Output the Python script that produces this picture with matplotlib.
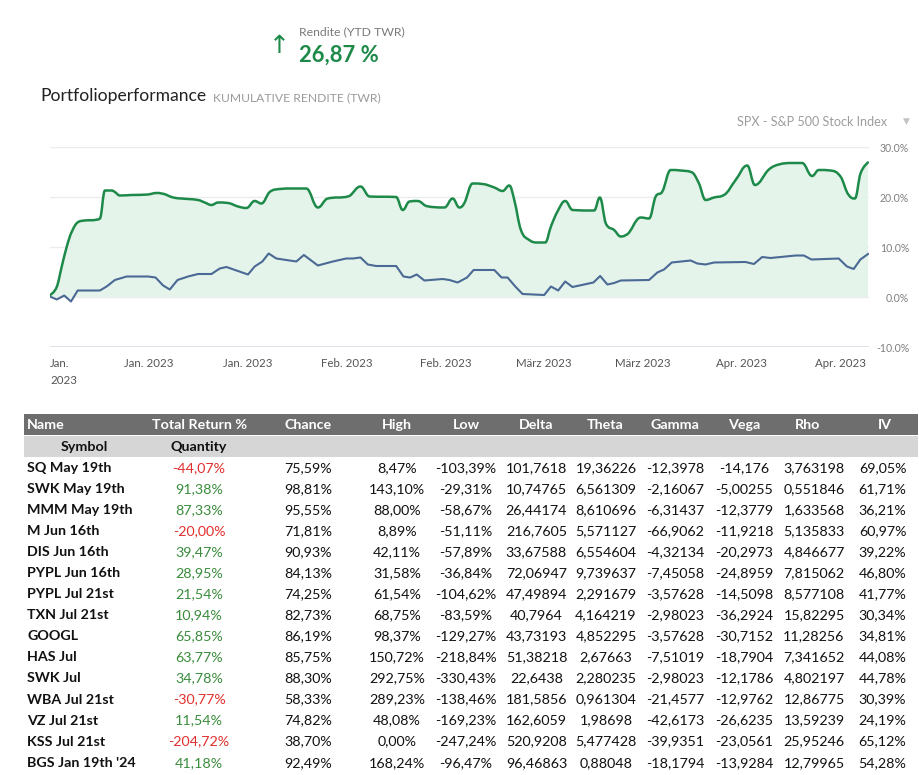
import matplotlib
matplotlib.use("Agg")
import matplotlib.pyplot as plt
from matplotlib.patches import Rectangle, PathPatch
from matplotlib.path import Path

plt.rcParams['font.family'] = ['Lato', 'DejaVu Sans']

W, H = 919, 775

# ---------------- chart data (day offset from 1 Jan 2023, cumulative return %) ----------------
port_days = [0, 0.95, 1.65, 2.36, 3.07, 4.0, 4.95, 6.36, 7.07, 7.78, 8.73, 9.19, 9.9, 11.55, 13.9,
             15.09, 15.8, 17.44, 18.62, 20.97, 21.92, 22.87, 23.8, 25.21, 26.63, 27.82, 28.99, 29.94,
             31.11, 32.53, 34.4, 36.3, 37.94, 39.13, 42.42, 43.98, 45.25, 49.03, 49.96, 50.91, 52.08,
             53.27, 55.86, 57.03, 57.98, 58.69, 59.86, 61.27, 62.93, 64.1, 65.05, 65.76, 66.7, 67.88,
             69.05, 70.14, 70.95, 71.88, 72.97, 74.0, 77.07, 77.87, 78.72, 79.9, 80.84, 81.55, 83.67,
             84.85, 85.79, 86.73, 87.92, 89.33, 90.97, 91.92, 92.86, 94.04, 95.45, 97.11, 98.75, 99.84,
             101.82, 103.23, 105.11, 106.53, 107.94, 108.89, 110.54, 111.96, 113.13, 114.0, 114.8, 115.86]
port_vals = [0.4, 2.0, 6.0, 10.0, 13.0, 15.0, 15.3, 15.4, 15.7, 21.3, 21.3, 21.0, 20.3, 20.4, 20.5,
             20.8, 20.7, 19.9, 19.7, 19.4, 18.9, 18.4, 18.9, 18.8, 18.1, 17.8, 19.2, 18.7,
             21.0, 21.6, 21.7, 21.7, 17.9, 19.6, 20.2, 22.1, 20.1, 20.0, 17.4, 19.1, 19.2,
             18.2, 17.9, 19.7, 17.9, 18.8, 22.7, 22.6, 21.9, 21.2, 22.3, 19.4, 13.4, 11.4,
             10.9, 10.9, 14.1, 17.1, 19.2, 17.4, 17.3, 19.9, 14.7, 13.4, 12.1, 12.4, 15.9,
             15.7, 20.1, 21.1, 25.4, 25.3, 24.9, 22.7, 19.4, 19.9, 20.4, 23.4, 26.3, 22.4,
             25.5, 26.5, 26.8, 26.8, 24.2, 25.4, 25.3, 24.1, 20.4, 19.7, 24.7, 26.9]

spx_days = [0, 0.95, 2.02, 2.97, 3.92, 7.07, 8.02, 9.19, 10.85, 13.9, 14.95, 16.02, 16.97, 18.06,
            19.56, 20.97, 22.87, 24.04, 24.99, 28.04, 28.99, 30.08, 30.97, 32.06, 34.89, 35.96, 37.94,
            40.06, 41.96, 42.89, 43.98, 45.01, 46.2, 49.03, 50.06, 51.01, 51.94, 53.03, 55.62, 56.57,
            57.74, 59.07, 60.0, 62.93, 63.96, 64.81, 65.9, 66.93, 70.0, 70.95, 71.98, 72.97, 74.0,
            76.97, 77.92, 78.95, 79.9, 80.84, 84.85, 86.02, 86.97, 88.06, 90.74, 91.68, 92.86, 94.04,
            98.52, 99.7, 100.87, 102.06, 105.6, 106.77, 107.85, 111.71, 112.88, 113.83, 114.78, 115.86]
spx_vals = [0.1, -0.5, 0.3, -0.9, 1.3, 1.3, 2.1, 3.4, 4.1, 4.1, 3.9, 2.3, 1.5, 3.4,
            4.1, 4.6, 4.6, 5.7, 6.0, 4.5, 6.1, 7.1, 8.7, 7.7, 7.1, 8.4, 6.3,
            7.1, 7.7, 7.7, 7.9, 6.5, 6.2, 6.2, 4.1, 3.9, 4.5, 3.3, 3.6, 3.4,
            2.9, 3.9, 5.4, 5.4, 3.9, 3.9, 2.1, 0.6, 0.4, 2.1, 1.3, 3.1, 2.0,
            2.9, 4.2, 2.5, 2.8, 3.3, 3.4, 4.9, 5.5, 6.9, 7.3, 6.7, 6.5, 6.9,
            7.0, 6.6, 8.0, 7.8, 8.3, 8.3, 7.5, 7.7, 6.1, 5.6, 7.5, 8.6]

x_tick_days = [0, 14, 28, 42, 56, 70, 84, 98, 112]
x_tick_labels = ["Jan.\n2023", "Jan. 2023", "Jan. 2023", "Feb. 2023", "Feb. 2023",
                 "März 2023", "März 2023", "Apr. 2023", "Apr. 2023"]
y_ticks = [-10, 0, 10, 20, 30]
y_tick_labels = ["-10.0%", "0.0%", "10.0%", "20.0%", "30.0%"]

ytd_return = "26,87 %"
benchmark = "SPX - S&P 500 Stock Index"

# ---------------- table data ----------------
col_headers = ["Name", "Total Return %", "Chance", "High", "Low", "Delta", "Theta", "Gamma", "Vega", "Rho", "IV"]
sub_headers = ["Symbol", "Quantity"]
names = ["SQ May 19th", "SWK May 19th", "MMM May 19th", "M Jun 16th", "DIS Jun 16th", "PYPL Jun 16th",
         "PYPL Jul 21st", "TXN Jul 21st", "GOOGL", "HAS Jul", "SWK Jul", "WBA Jul 21st", "VZ Jul 21st",
         "KSS Jul 21st", "BGS Jan 19th '24"]
total_return = [-44.07, 91.38, 87.33, -20.00, 39.47, 28.95, 21.54, 10.94, 65.85, 63.77, 34.78, -30.77,
                11.54, -204.72, 41.18]
chance = [75.59, 98.81, 95.55, 71.81, 90.93, 84.13, 74.25, 82.73, 86.19, 85.75, 88.30, 58.33, 74.82, 38.70, 92.49]
high = [8.47, 143.10, 88.00, 8.89, 42.11, 31.58, 61.54, 68.75, 98.37, 150.72, 292.75, 289.23, 48.08, 0.00, 168.24]
low = [-103.39, -29.31, -58.67, -51.11, -57.89, -36.84, -104.62, -83.59, -129.27, -218.84, -330.43,
       -138.46, -169.23, -247.24, -96.47]
delta = [101.7618, 10.74765, 26.44174, 216.7605, 33.67588, 72.06947, 47.49894, 40.7964, 43.73193,
         51.38218, 22.6438, 181.5856, 162.6059, 520.9208, 96.46863]
theta = [19.36226, 6.561309, 8.610696, 5.571127, 6.554604, 9.739637, 2.291679, 4.164219, 4.852295,
         2.67663, 2.280235, 0.961304, 1.98698, 5.477428, 0.88048]
gamma = [-12.3978, -2.16067, -6.31437, -66.9062, -4.32134, -7.45058, -3.57628, -2.98023, -3.57628,
         -7.51019, -2.98023, -21.4577, -42.6173, -39.9351, -18.1794]
vega = [-14.176, -5.00255, -12.3779, -11.9218, -20.2973, -24.8959, -14.5098, -36.2924, -30.7152,
        -18.7904, -12.1786, -12.9762, -26.6235, -23.0561, -13.9284]
rho = [3.763198, 0.551846, 1.633568, 5.135833, 4.846677, 7.815062, 8.577108, 15.82295, 11.28256,
       7.341652, 4.802197, 12.86775, 13.59239, 25.95246, 12.79965]
iv = [69.05, 61.71, 36.21, 60.97, 39.22, 46.80, 41.77, 30.34, 34.81, 44.08, 44.78, 30.39, 24.19, 65.12, 54.28]

# ---------------- figure ----------------
fig = plt.figure(figsize=(W / 100, H / 100), dpi=100)
fig.patch.set_facecolor("white")


def fx(x):
    return x / W


def fy(y):
    return 1 - y / H


GREEN = "#1e8a4a"
BLUE = "#4a6994"


def spline_path_parts(xs, ys):
    """Bezier (spline-style) rendering of a polyline through the given points."""
    n = len(xs)
    lc = [(xs[0], ys[0])] * n
    rc = [(xs[0], ys[0])] * n
    for i in range(n):
        x, y = xs[i], ys[i]
        if i == 0 or i == n - 1:
            lc[i] = (x, y)
            rc[i] = (x, y)
            continue
        px, py = xs[i - 1], ys[i - 1]
        nx, ny = xs[i + 1], ys[i + 1]
        lx, ly = (1.5 * x + px) / 2.5, (1.5 * y + py) / 2.5
        rx, ry = (1.5 * x + nx) / 2.5, (1.5 * y + ny) / 2.5
        corr = ((ry - ly) * (rx - x)) / (rx - lx) + y - ry
        ly += corr
        ry += corr
        if ly > py and ly > y:
            ly = max(py, y)
            ry = 2 * y - ly
        elif ly < py and ly < y:
            ly = min(py, y)
            ry = 2 * y - ly
        if ry > ny and ry > y:
            ry = max(ny, y)
            ly = 2 * y - ry
        elif ry < ny and ry < y:
            ry = min(ny, y)
            ly = 2 * y - ry
        lc[i] = (lx, ly)
        rc[i] = (rx, ry)
    verts = [(xs[0], ys[0])]
    codes = [Path.MOVETO]
    for i in range(1, n):
        verts += [rc[i - 1], lc[i], (xs[i], ys[i])]
        codes += [Path.CURVE4] * 3
    return verts, codes


# header texts
fig.text(fx(279), fy(46), "\u2191", color=GREEN, fontsize=18, ha="center", va="center",
         family=["DejaVu Sans"])
fig.text(fx(299), fy(32), "Rendite (YTD TWR)", color="#7a7a7a", fontsize=8.8, ha="left", va="center")
fig.text(fx(299), fy(55), ytd_return, color=GREEN, fontsize=15.8, fontweight="bold", ha="left", va="center")
fig.text(fx(40), fy(101), "Portfolioperformance", color="#222222", fontsize=12.6, ha="left", va="baseline")
fig.text(fx(213), fy(101), "KUMULATIVE RENDITE (TWR)", color="#9a9a9a", fontsize=8.7, ha="left", va="baseline")
fig.text(fx(887), fy(122), benchmark, color="#9d9d9d", fontsize=9.1, ha="right", va="center")
fig.text(fx(906), fy(121), "\u25BC", color="#c4c4c4", fontsize=6.5, ha="center", va="center",
         family=["DejaVu Sans"])

# chart axes
ax = fig.add_axes([fx(50), fy(347), (869 - 50) / W, 200 / H])
ax.set_xlim(0, 116)
ax.set_ylim(-10, 30)
for s in ax.spines.values():
    s.set_visible(False)
for yv in [0, 10, 20, 30]:
    ax.axhline(yv, color="#ececec", lw=1.0, zorder=0)
ax.axhline(-10, color="#dde2ea", lw=1.4, zorder=0)

pv, pc = spline_path_parts(port_days, port_vals)
fill_verts = pv + [(port_days[-1], 0), (port_days[0], 0), pv[0]]
fill_codes = pc + [Path.LINETO, Path.LINETO, Path.CLOSEPOLY]
ax.add_patch(PathPatch(Path(fill_verts, fill_codes), facecolor="#e5f4ea", edgecolor="none", zorder=1))
ax.plot(spx_days, spx_vals, color=BLUE, lw=1.5, zorder=2, solid_joinstyle="round")
ax.add_patch(PathPatch(Path(pv, pc), facecolor="none", edgecolor=GREEN, lw=1.8, zorder=3,
                       joinstyle="round", capstyle="round"))

ax.yaxis.tick_right()
ax.set_yticks(y_ticks)
ax.set_yticklabels(y_tick_labels, color="#808080", fontsize=7.6)
for lab in ax.get_yticklabels():
    lab.set_horizontalalignment("right")
ax.tick_params(axis="y", length=0, pad=29)

ax.set_xticks(x_tick_days)
ax.set_xticklabels(x_tick_labels, color="#555555", fontsize=8.3, linespacing=1.6)
ax.tick_params(axis="x", length=0, pad=8)
xl = ax.get_xticklabels()
xl[0].set_horizontalalignment("left")

# ---------------- table ----------------
fig.add_artist(Rectangle((fx(24), fy(435)), (918 - 24) / W, 21 / H, transform=fig.transFigure,
                         facecolor="#6e6e6e", edgecolor="none"))
fig.add_artist(Rectangle((fx(24), fy(457)), (918 - 24) / W, 21 / H, transform=fig.transFigure,
                         facecolor="#d6d6d6", edgecolor="none"))

head_x = [27, 199, 308, 397, 466, 536, 605, 675, 744, 808, 885]
val_x = [27, 199, 308, 397, 466, 536.5, 606, 675, 744.5, 814, 882.5]
TS = 10.3

for i, h in enumerate(col_headers):
    fig.text(fx(head_x[i]), fy(425), h, color="white", fontsize=TS, fontweight="bold",
             ha="left" if i == 0 else "center", va="center")
fig.text(fx(84), fy(446.5), sub_headers[0], color="#111111", fontsize=TS, fontweight="bold", ha="center", va="center")
fig.text(fx(199), fy(446.5), sub_headers[1], color="#111111", fontsize=TS, fontweight="bold", ha="center", va="center")


def pct(v):
    return f"{v:.2f}%".replace(".", ",")


def gen(v):
    return str(v).replace(".", ",")


RED_T = "#e0302e"
GREEN_T = "#3a8c3c"
for r in range(len(names)):
    y = 468 + r * 21.05
    fig.text(fx(val_x[0]), fy(y), names[r], color="#111111", fontsize=TS, fontweight="bold", ha="left", va="center")
    fig.text(fx(val_x[1]), fy(y), pct(total_return[r]), color=RED_T if total_return[r] < 0 else GREEN_T,
             fontsize=TS, ha="center", va="center")
    cells = [pct(chance[r]), pct(high[r]), pct(low[r]), gen(delta[r]), gen(theta[r]), gen(gamma[r]),
             gen(vega[r]), gen(rho[r]), pct(iv[r])]
    for j, c in enumerate(cells):
        fig.text(fx(val_x[j + 2]), fy(y), c, color="#111111", fontsize=TS, ha="center", va="center")

fig.savefig("out.png", dpi=100, facecolor="white")
